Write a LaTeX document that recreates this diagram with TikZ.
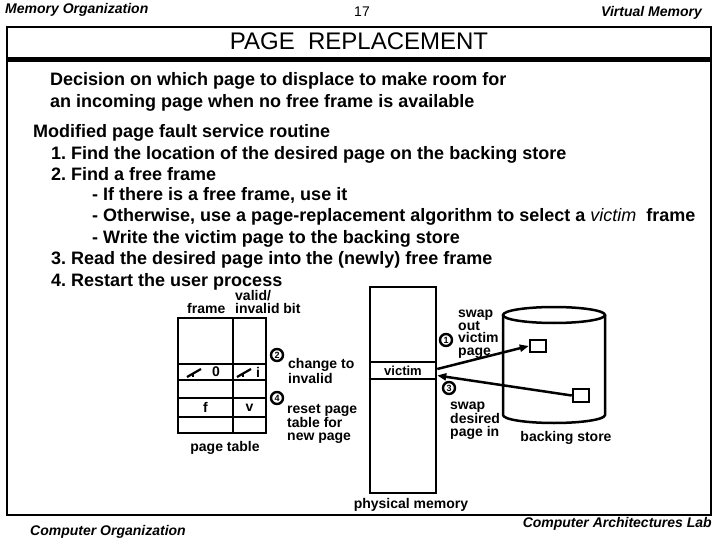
\documentclass[tikz,border=0pt]{standalone}
\usepackage{fontspec}
\setmainfont{Liberation Sans}
\frenchspacing
\usetikzlibrary{arrows.meta}
\tikzset{
  hdrtext/.style={font=\fontsize{14}{16}\selectfont\bfseries\itshape, inner sep=0pt},
  bodytext/.style={font=\fontsize{18}{21}\selectfont\bfseries, anchor=base west, inner sep=0pt},
  lbltext/.style={font=\fontsize{14}{12.5}\selectfont\bfseries, inner sep=0pt, align=left},
  ptcell/.style={draw, line width=2.5pt, inner sep=0pt},
  stepmark/.style={circle, draw, line width=2.4pt, minimum size=12pt, inner sep=0pt, font=\fontsize{9}{9}\selectfont\bfseries},
  pgbox/.style={draw, line width=2.5pt, inner sep=0pt, minimum width=16pt, minimum height=12pt},
  swaparrow/.style={-{Triangle[length=9pt,width=7pt]}, line width=2.5pt},
  strike/.style={line width=2.2pt}
}
\begin{document}
\begin{tikzpicture}[x=1pt, y=-1pt]
  \useasboundingbox (0,0) rectangle (720,540);
  % header and footer
  \node[hdrtext, anchor=base west] (orgtop) at (5,14) {Memory Organization};
  \node[font=\fontsize{14}{16}\selectfont, inner sep=0pt, anchor=base] (pgno) at (362,17) {17};
  \node[hdrtext, anchor=base east] (vmtop) at (702,17) {Virtual Memory};
  \node[hdrtext, anchor=base west] (orgbot) at (30,535) {Computer Organization};
  \node[hdrtext, anchor=base east] (labbot) at (712,527) {Computer Architectures Lab};

  % slide frame
  \draw[line width=1.2pt] (7,27) rectangle (711,515);
  \draw[line width=5pt] (7,60) -- (711,60);
  \node[font=\fontsize{24}{28}\selectfont, inner sep=0pt, anchor=base] (title) at (359,50) {PAGE\ \ REPLACEMENT};

  % text
  \node[bodytext] (dec1) at (50,85.5) {Decision on which page to displace to make room for};
  \node[bodytext] (dec2) at (50,107.5) {an incoming page when no free frame is available};
  \node[bodytext] (mod) at (33,137.5) {Modified page fault service routine};
  \node[bodytext] (s1) at (51,159.5) {1. Find the location of the desired page on the backing store};
  \node[bodytext] (s2) at (51,180.5) {2. Find a free frame};
  \node[bodytext] (s2a) at (92,200.5) {- If there is a free frame, use it};
  \node[bodytext] (s2b) at (92,221.5) {- Otherwise, use a page-replacement algorithm to select a {\mdseries\itshape victim}\ \ frame};
  \node[bodytext] (s2c) at (92,243.5) {- Write the victim page to the backing store};
  \node[bodytext] (s3) at (51,264.5) {3. Read the desired page into the (newly) free frame};
  \node[bodytext] (s4) at (51,286.5) {4. Restart the user process};

  % page table
  \node[lbltext, anchor=base west] (frlbl) at (187,313) {frame};
  \node[lbltext, anchor=base west] (vblbl) at (235,313) {valid/\\invalid bit};
  \node[ptcell, minimum width=55pt, minimum height=46pt] (fr1) at (205.5,341) {};
  \node[ptcell, minimum width=33pt, minimum height=46pt] (vb1) at (249.5,341) {};
  \node[ptcell, minimum width=55pt, minimum height=16pt] (fr2) at (205.5,372) {};
  \node[ptcell, minimum width=33pt, minimum height=16pt] (vb2) at (249.5,372) {};
  \node[ptcell, minimum width=55pt, minimum height=18pt] (fr3) at (205.5,389) {};
  \node[ptcell, minimum width=33pt, minimum height=18pt] (vb3) at (249.5,389) {};
  \node[ptcell, minimum width=55pt, minimum height=19pt, lbltext] (fr4) at (205.5,407.5) {f};
  \node[ptcell, minimum width=33pt, minimum height=19pt, lbltext] (vb4) at (249.5,407.5) {v};
  \node[ptcell, minimum width=55pt, minimum height=16pt] (fr5) at (205.5,425) {};
  \node[ptcell, minimum width=33pt, minimum height=16pt] (vb5) at (249.5,425) {};
  \node[lbltext] (old0) at (216,372) {0};
  \node[lbltext] (oldi) at (258,372) {i};
  \draw[strike] (187,377) -- (201,369);
  \draw[strike] (193,373) -- (193,377);
  \draw[strike] (237,377) -- (251,369);
  \draw[strike] (243,373) -- (243,377);
  \node[lbltext, anchor=base] (ptlbl) at (225,451) {page table};

  \node[stepmark] (st2) at (277,355) {2};
  \node[lbltext, anchor=base west] (chg) at (288,383) {change to\\invalid};
  \node[stepmark] (st4) at (277,398) {4};
  \node[lbltext, anchor=base west] (rst) at (287,440) {reset page\\table for\\new page};

  % physical memory
  \node[draw, line width=2.5pt, minimum width=66pt, minimum height=206pt] (pmem) at (403,390) {};
  \node[draw, line width=2.5pt, minimum width=66pt, minimum height=17pt, font=\fontsize{13}{13}\selectfont\bfseries] (victim) at (403,370.5) {victim};
  \node[lbltext, anchor=base] (pmlbl) at (411,508) {physical memory};

  % backing store
  \draw[line width=2.5pt] (554,315) ellipse [x radius=51pt, y radius=8pt];
  \draw[line width=2.5pt] (503,315) -- (503,415) arc[start angle=180, end angle=360, x radius=51pt, y radius=8pt] -- (605,315);
  \node[pgbox] (pg1) at (538,346) {};
  \node[pgbox, minimum height=13pt] (pg2) at (581,395.5) {};
  \node[lbltext, anchor=base] (bslbl) at (566,441) {backing store};

  % swaps
  \draw[swaparrow] ([yshift=1.5pt]victim.east) -- (pg1.west);
  \draw[swaparrow] (pg2.west) -- ([yshift=-5pt]victim.east);
  \node[stepmark] (st1) at (446,340) {1};
  \node[lbltext, anchor=base west] (swout) at (458,355) {swap\\out\\victim\\page};
  \node[stepmark] (st3) at (449,388) {3};
  \node[lbltext, anchor=base west] (swin) at (450,436) {swap\\desired\\page in};
\end{tikzpicture}
\end{document}
